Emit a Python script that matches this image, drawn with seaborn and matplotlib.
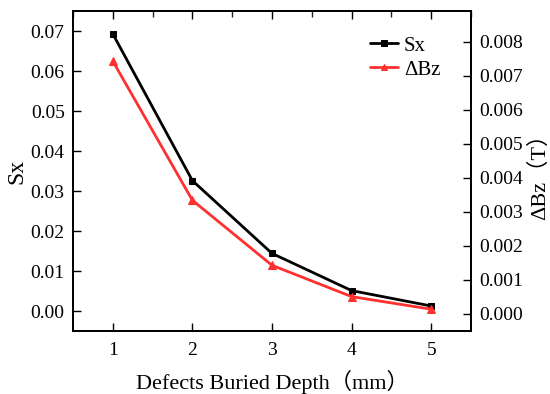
import numpy as np
import pandas as pd
import matplotlib
matplotlib.use("Agg")
import matplotlib.pyplot as plt
from matplotlib.ticker import MultipleLocator
import seaborn as sns

# --- données ---
depth = [1, 2, 3, 4, 5]
sx = [0.0693, 0.0326, 0.0144, 0.0051, 0.00125]
dbz = [0.00743, 0.00334, 0.00143, 0.00051, 0.00014]

sns.set_theme(style="ticks")
plt.rcParams['font.family'] = ['Liberation Serif', 'Noto Sans CJK SC']
plt.rcParams['axes.unicode_minus'] = False
plt.rcParams['text.color'] = 'black'
plt.rcParams['axes.labelcolor'] = 'black'

df = pd.DataFrame({'depth': depth, 'Sx': sx, 'dBz': dbz})

fig = plt.figure(figsize=(5.5, 3.94), dpi=100)
ax = fig.add_axes([0.1327, 0.1599, 0.7237, 0.8121])
ax2 = ax.twinx()

sns.lineplot(data=df, x='depth', y='Sx', ax=ax, color='black', lw=2,
             marker='s', markersize=5, markeredgecolor='black', label='Sx', legend=False)
sns.lineplot(data=df, x='depth', y='dBz', ax=ax2, color='#FF3030', lw=2,
             marker='^', markersize=6, markeredgecolor='#FF3030', label='ΔBz', legend=False)

ax.set_xlim(0.5, 5.5)
ax.set_ylim(-0.005, 0.075)
ax2.set_ylim(-0.0005, 0.0089)
ax.set_xticks(depth)
ax.set_yticks(np.arange(0, 0.071, 0.01))
ax.set_yticklabels([f"{v:.2f}" for v in np.arange(0, 0.071, 0.01)])
ax2.set_yticks(np.arange(0, 0.0081, 0.001))
ax2.set_yticklabels([f"{v:.3f}" for v in np.arange(0, 0.0081, 0.001)])
ax.xaxis.set_minor_locator(MultipleLocator(0.5))

ax.tick_params(axis='x', which='major', direction='in', length=6, width=1,
               top=True, labelsize=14, pad=8, colors='black')
ax.tick_params(axis='x', which='minor', direction='in', length=4, width=1,
               bottom=False, top=True)
ax.tick_params(axis='y', which='both', direction='in', length=6, width=1,
               labelsize=14, pad=6, colors='black')
ax2.tick_params(axis='y', direction='in', length=6, width=1, labelsize=14,
                pad=6, colors='black')

for a in (ax, ax2):
    for s in a.spines.values():
        s.set_color('black')
        s.set_linewidth(1.3)

ax.set_xlabel('Defects Buried Depth（mm）', fontsize=16, labelpad=8, color='black')
ax.set_ylabel('Sx', fontsize=17, labelpad=2, color='black')
ax2.set_ylabel('ΔBz（T）', fontsize=16, labelpad=4, color='black')

h1, l1 = ax.get_legend_handles_labels()
h2, l2 = ax2.get_legend_handles_labels()
leg = ax2.legend(h1 + h2, l1 + l2, loc='upper right', bbox_to_anchor=(0.97, 0.98),
                 frameon=False, fontsize=15, handlelength=1.3, handletextpad=0.3,
                 labelspacing=0.2, markerscale=0.8)
for t in leg.get_texts():
    t.set_color('black')

fig.savefig('out.png', dpi=100)
